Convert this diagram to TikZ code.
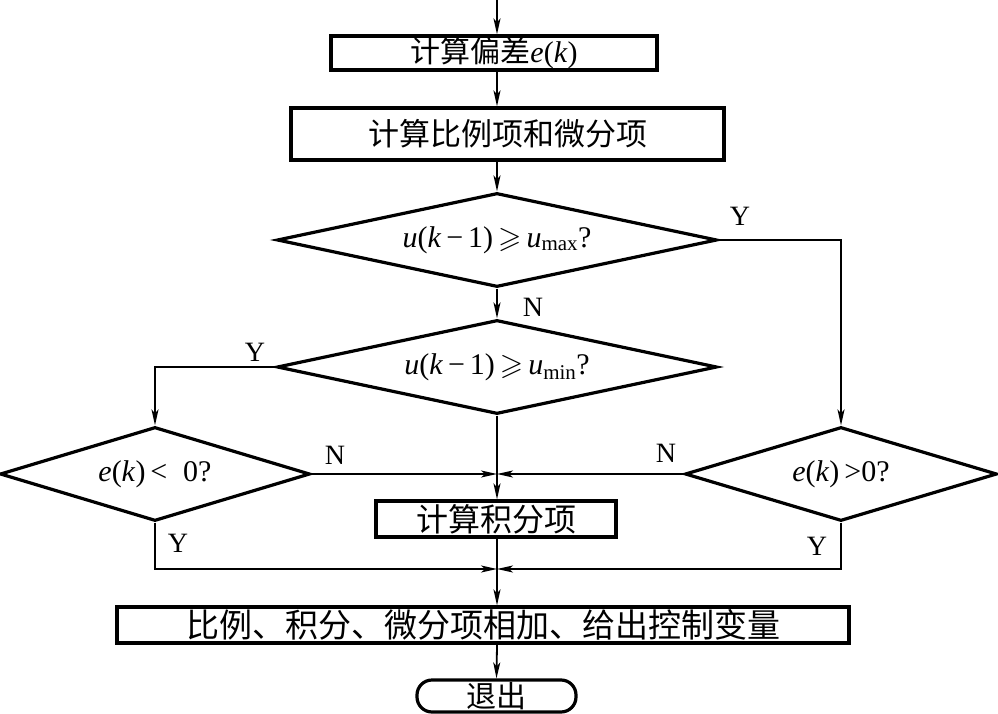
\documentclass[tikz,border=0pt]{standalone}
\usepackage{amssymb}
\usepackage{fontspec}
\setmainfont{Liberation Serif}
\newfontfamily\cjk{Noto Sans CJK SC}
\usetikzlibrary{arrows.meta,shapes.geometric}
\tikzset{
  box/.style={draw, line width=3.2pt, inner sep=0pt},
  dia/.style={draw, shape=diamond, line width=3.2pt, inner sep=0pt, aspect=4.7, minimum height=94pt},
  conn/.style={line width=1.8pt},
  arr/.style={conn, -{Stealth[length=16pt,width=7pt,inset=4pt]}},
  lbl/.style={font=\fontsize{28}{30}\selectfont},
  mtext/.style={font=\fontsize{30}{32}\selectfont},
}
\begin{document}
\begin{tikzpicture}[x=1pt,y=-1pt]
\useasboundingbox (0,0) rectangle (998,714);
\coordinate (start) at (497,0);
% nodes
\node[box, minimum width=326pt, minimum height=34pt, font=\fontsize{30}{32}\selectfont] (b1) at (494,53)
  {{\cjk 计算偏差}\textit{e}(\textit{k})};
\node[box, minimum width=433pt, minimum height=52pt, font=\fontsize{31}{33}\selectfont\cjk] (b2) at (507.5,134) {计算比例项和微分项};
\node[dia, minimum width=440pt, mtext] (d1) at (497,240)
  {\textit{u}(\textit{k}\,−\,1)\,$\geqslant$\,\textit{u}\textsubscript{max}?};
\node[dia, minimum width=440pt, mtext] (d2) at (497,367)
  {\textit{u}(\textit{k}\,−\,1)\,$\geqslant$\,\textit{u}\textsubscript{min}?};
\node[dia, minimum width=310pt, mtext] (d3) at (155,474) {\textit{e}(\textit{k})\,<\; 0?};
\node[dia, minimum width=312pt, mtext] (d4) at (841,474) {\textit{e}(\textit{k})\,>0?};
\node[box, minimum width=240pt, minimum height=36pt, font=\fontsize{32}{34}\selectfont\cjk] (b3) at (496,519) {计算积分项};
\node[box, minimum width=732pt, minimum height=36pt, font=\fontsize{33}{35}\selectfont\cjk] (b4) at (483,625) {比例、积分、微分项相加、给出控制变量};
\node[box, rounded corners=15pt, minimum width=159pt, minimum height=32pt, font=\fontsize{30}{32}\selectfont\cjk] (ex) at (496.5,696) {退出};
\coordinate (j1) at (497,474);
\coordinate (j2) at (497,569);
% connectors
\draw[arr] (start) -- (start |- b1.north);
\draw[arr] (start |- b1.south) -- (start |- b2.north);
\draw[arr] (start |- b2.south) -- (d1.north);
\draw[arr] (d1.south) -- (d2.north);
\draw[arr] (d1.east) -| (d4.north);
\draw[arr] (d2.west) -| (d3.north);
\draw[arr] (d2.south) -- (d2.south |- b3.north);
\draw[arr] (d3.east) -- (j1);
\draw[arr] (d4.west) -- (j1);
\draw[arr] (d3.south) |- (j2);
\draw[arr] (d4.south) |- (j2);
\draw[arr] (j2 |- b3.south) -- (j2 |- b4.north);
\draw[arr] (j2 |- b4.south) -- (ex.north);
% labels
\node[lbl] (ly1) at (740,216) {Y};
\node[lbl] (ln1) at (533,307) {N};
\node[lbl] (ly2) at (255,352) {Y};
\node[lbl] (ln2) at (335,455) {N};
\node[lbl] (ln3) at (666,453) {N};
\node[lbl] (ly3) at (178,543) {Y};
\node[lbl] (ly4) at (817,546) {Y};
\end{tikzpicture}
\end{document}
